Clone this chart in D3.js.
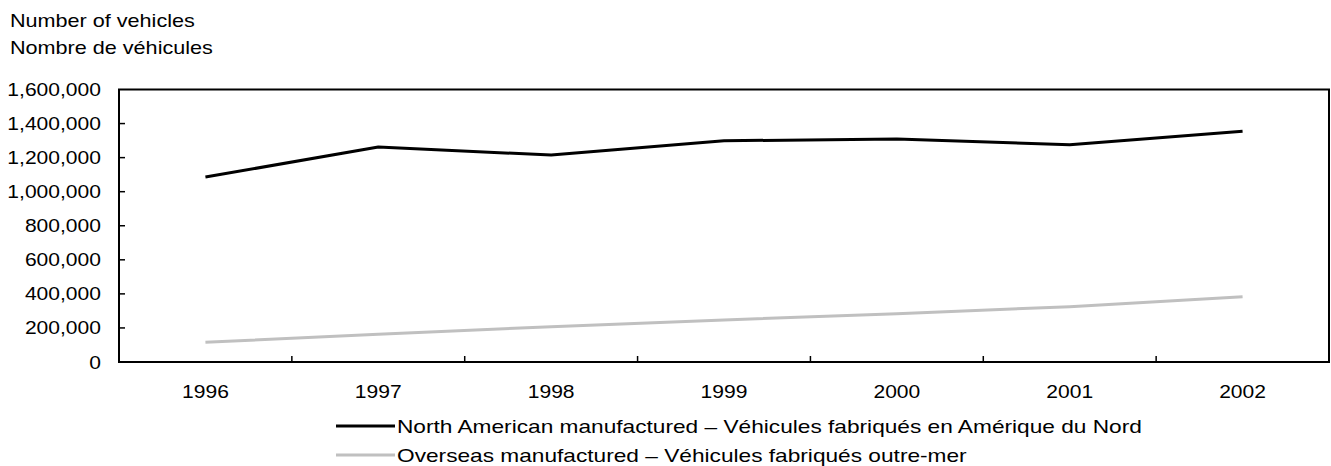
<!DOCTYPE html>
<html>
<head>
<meta charset="utf-8">
<script src="https://cdn.jsdelivr.net/npm/d3@7"></script>
<style>
  html, body { margin: 0; padding: 0; background: #fff; }
  svg { display: block; }
  text { font-family: "Liberation Sans", Arial, sans-serif; fill: #000; }
</style>
</head>
<body>
<svg id="chart" width="1331" height="466"></svg>
<script>
const years = ["1996", "1997", "1998", "1999", "2000", "2001", "2002"];
const northAmerican = [1086000, 1262000, 1215000, 1299000, 1309000, 1276000, 1355000];
const overseas = [116000, 163000, 207000, 247000, 284000, 325000, 383000];
const yTicks = [0, 200000, 400000, 600000, 800000, 1000000, 1200000, 1400000, 1600000];
const seriesNames = [
  "North American manufactured \u2013 V\u00e9hicules fabriqu\u00e9s en Am\u00e9rique du Nord",
  "Overseas manufactured \u2013 V\u00e9hicules fabriqu\u00e9s outre-mer"
];
const titleLines = ["Number of vehicles", "Nombre de v\u00e9hicules"];

(function () {
const svg = d3.select("#chart");
const pLeft = 119, pRight = 1329, pTop = 89.5, pBottom = 362;
const fs = 18;

const x = d3.scaleBand().domain(years).range([pLeft, pRight]).paddingInner(0).paddingOuter(0);
const y = d3.scaleLinear().domain([0, 1600000]).range([pBottom, pTop]);

function stretchedText(g, tx, ty, str, anchor, sx) {
  return g.append("text")
    .attr("transform", `translate(${tx},${ty}) scale(${sx},1)`)
    .attr("text-anchor", anchor || "start")
    .style("font-size", fs + "px")
    .text(str);
}

// Title
titleLines.forEach((t, i) => stretchedText(svg, 10, 27 + i * 27, t, "start", 1.2));

// Y axis labels
const fmt = d3.format(",");
yTicks.forEach(v => stretchedText(svg, 101, y(v) + 6.5, fmt(v), "end", 1.17));

// Frame
svg.append("rect")
  .attr("x", pLeft).attr("y", pTop)
  .attr("width", pRight - pLeft).attr("height", pBottom - pTop)
  .attr("fill", "none").attr("stroke", "#000").attr("stroke-width", 2);

// Y ticks (inward)
svg.append("g").selectAll("line").data(yTicks.slice(1, -1)).join("line")
  .attr("x1", pLeft).attr("x2", pLeft + 6)
  .attr("y1", d => y(d)).attr("y2", d => y(d))
  .attr("stroke", "#000").attr("stroke-width", 1.5);

// X ticks at category boundaries (inward)
svg.append("g").selectAll("line").data(years.slice(1)).join("line")
  .attr("x1", d => x(d)).attr("x2", d => x(d))
  .attr("y1", pBottom).attr("y2", pBottom - 6)
  .attr("stroke", "#000").attr("stroke-width", 1.5);

// X labels
years.forEach(yr => stretchedText(svg, x(yr) + x.bandwidth() / 2, 398, yr, "middle", 1.17));

// Lines
const line = d3.line().x((d, i) => x(years[i]) + x.bandwidth() / 2).y(d => y(d));
svg.append("path").datum(overseas)
  .attr("d", line).attr("fill", "none")
  .attr("stroke", "#c0c0c0").attr("stroke-width", 3).attr("stroke-linejoin", "round");
svg.append("path").datum(northAmerican)
  .attr("d", line).attr("fill", "none")
  .attr("stroke", "#000").attr("stroke-width", 3).attr("stroke-linejoin", "round");

// Legend
const legendColors = ["#000", "#c0c0c0"];
seriesNames.forEach((name, i) => {
  const ly = 426 + i * 29;
  svg.append("line")
    .attr("x1", 336).attr("x2", 395).attr("y1", ly).attr("y2", ly)
    .attr("stroke", legendColors[i]).attr("stroke-width", 3);
  stretchedText(svg, 397, ly + 6.5, name, "start", 1.26);
});
})();
</script>
</body>
</html>
